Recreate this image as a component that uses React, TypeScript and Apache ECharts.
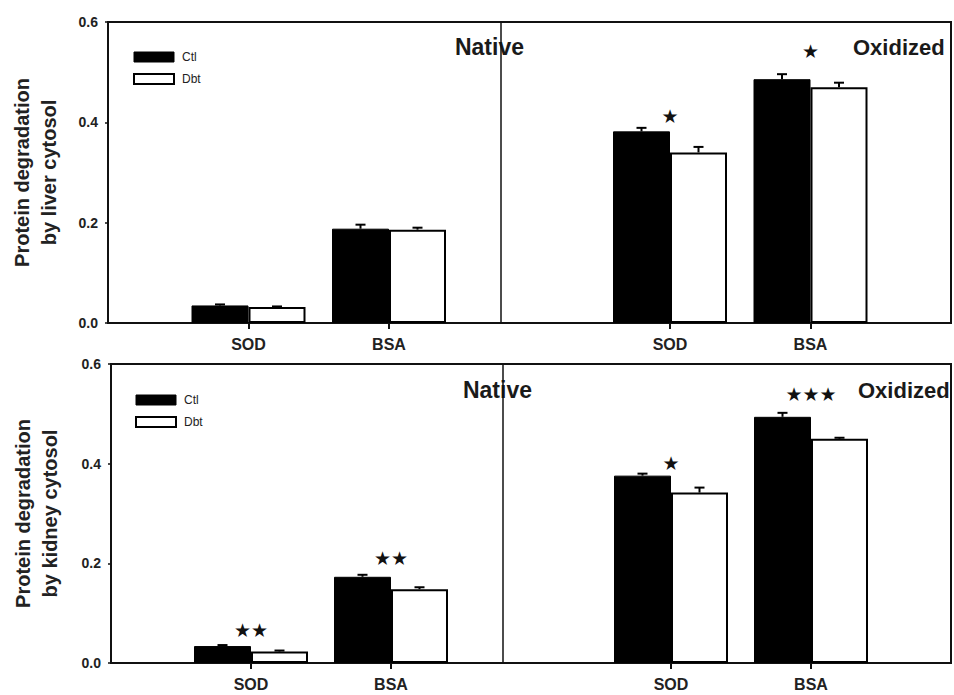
import { useEffect, useRef } from 'react';
import * as echarts from 'echarts';

const proteins = ['SOD', 'BSA'];
const conditions = ['Native', 'Oxidized'];
const groups = ['Ctl', 'Dbt'];
const yTitles = ['Protein degradation\nby liver cytosol', 'Protein degradation\nby kidney cytosol'];
const yTickLabels = ['0.0', '0.2', '0.4', '0.6'];

// order of values: Native SOD, Native BSA, Oxidized SOD, Oxidized BSA
const liverCtl = [0.035, 0.188, 0.382, 0.486];
const liverCtlErr = [0.002, 0.008, 0.007, 0.01];
const liverDbt = [0.032, 0.186, 0.34, 0.47];
const liverDbtErr = [0.001, 0.004, 0.011, 0.009];
const liverSig = ['', '', '*', '*'];
const liverSigY = [0, 0, 0.412, 0.542];

const kidneyCtl = [0.034, 0.173, 0.376, 0.494];
const kidneyCtlErr = [0.002, 0.004, 0.004, 0.008];
const kidneyDbt = [0.023, 0.148, 0.342, 0.45];
const kidneyDbtErr = [0.002, 0.004, 0.01, 0.002];
const kidneySig = ['**', '**', '*', '***'];
const kidneySigY = [0.066, 0.21, 0.402, 0.54];

const FONT = "'Liberation Sans', Arial, sans-serif";
const BAR_W = 57;

const categories = ['', ...proteins, '', ...proteins, ''];
const dividerSlot = proteins.length + 1;
const slots = conditions.flatMap((_, ci) => proteins.map((__, pi) => 1 + ci * (proteins.length + 1) + pi));

const panels = [
  { ctl: liverCtl, ctlErr: liverCtlErr, dbt: liverDbt, dbtErr: liverDbtErr, sig: liverSig, sigY: liverSigY },
  { ctl: kidneyCtl, ctlErr: kidneyCtlErr, dbt: kidneyDbt, dbtErr: kidneyDbtErr, sig: kidneySig, sigY: kidneySigY },
];

const gridLayout = [
  { left: 107, top: 22, width: 852, height: 301 },
  { left: 111, top: 364, width: 852, height: 299 },
];

function toSlots(values: number[]) {
  const arr: (number | string)[] = categories.map(() => '-');
  slots.forEach((s, i) => (arr[s] = values[i]));
  return arr;
}

function errorSeries(p: number, values: number[], errs: number[], offset: number) {
  return {
    type: 'custom',
    xAxisIndex: p,
    yAxisIndex: p,
    silent: true,
    z: 5,
    data: slots.map((s, i) => [s, values[i], errs[i]]),
    encode: { x: 0, y: 1 },
    renderItem: (params: any, api: any) => {
      const x = api.value(0);
      const y = api.value(1);
      const e = api.value(2);
      const p0 = api.coord([x, y]);
      const p1 = api.coord([x, y + e]);
      const cx = p0[0] + offset;
      const style = { stroke: '#000', lineWidth: 2 };
      return {
        type: 'group',
        children: [
          { type: 'line', shape: { x1: cx, y1: p0[1], x2: cx, y2: p1[1] }, style },
          { type: 'line', shape: { x1: cx - 5, y1: p1[1], x2: cx + 5, y2: p1[1] }, style },
        ],
      };
    },
  };
}

function buildOption() {
  const series: any[] = [];
  panels.forEach((pd, p) => {
    series.push({
      type: 'bar',
      name: groups[0],
      xAxisIndex: p,
      yAxisIndex: p,
      data: toSlots(pd.ctl),
      barWidth: BAR_W,
      barGap: '0%',
      itemStyle: { color: '#000', borderColor: '#000', borderWidth: 1 },
      markLine: {
        silent: true,
        symbol: 'none',
        label: { show: false },
        lineStyle: { color: '#111', width: 1.5, type: 'solid' },
        data: [{ xAxis: dividerSlot }],
      },
    });
    series.push({
      type: 'bar',
      name: groups[1],
      xAxisIndex: p,
      yAxisIndex: p,
      data: toSlots(pd.dbt),
      barWidth: BAR_W,
      barGap: '0%',
      itemStyle: { color: '#fff', borderColor: '#000', borderWidth: 2 },
    });
    series.push(errorSeries(p, pd.ctl, pd.ctlErr, -BAR_W / 2));
    series.push(errorSeries(p, pd.dbt, pd.dbtErr, BAR_W / 2));
    const sigIdx = pd.sig.map((s, i) => (s ? i : -1)).filter((i) => i >= 0);
    series.push({
      type: 'custom',
      xAxisIndex: p,
      yAxisIndex: p,
      silent: true,
      z: 6,
      data: sigIdx.map((i) => [slots[i], pd.sigY[i]]),
      encode: { x: 0, y: 1 },
      renderItem: (params: any, api: any) => {
        const pt = api.coord([api.value(0), api.value(1)]);
        const txt = pd.sig[sigIdx[params.dataIndex]].replace(/\*/g, '\u2605');
        return {
          type: 'text',
          x: pt[0],
          y: pt[1],
          style: {
            text: txt,
            fontSize: 19,
            fontFamily: "'DejaVu Sans', sans-serif",
            fill: '#111',
            align: 'center',
            verticalAlign: 'middle',
          },
        };
      },
    });
  });

  const legendData = [
    { name: groups[0], itemStyle: { color: '#000', borderColor: '#000', borderWidth: 1 } },
    { name: groups[1], itemStyle: { color: '#fff', borderColor: '#000', borderWidth: 2 } },
  ];
  const legendPos = [
    { left: 128, top: 46 },
    { left: 130, top: 389 },
  ];

  const titlePos = [
    { nativeRight: 524, y: 47, oxLeft: 853 },
    { nativeRight: 532, y: 390, oxLeft: 858 },
  ];

  return {
    animation: false,
    backgroundColor: '#fff',
    grid: gridLayout.map((g) => ({ ...g, show: true, borderColor: '#111', borderWidth: 2 })),
    xAxis: gridLayout.map((_, p) => ({
      type: 'category',
      gridIndex: p,
      data: categories,
      boundaryGap: false,
      axisLine: { lineStyle: { color: '#111', width: 2 } },
      axisTick: {
        show: true,
        length: 6,
        interval: (_i: number, v: string) => v !== '',
        lineStyle: { color: '#111', width: 2 },
      },
      axisLabel: {
        interval: 0,
        margin: 13,
        fontSize: 16,
        fontWeight: 'bold',
        fontFamily: FONT,
        color: '#222',
      },
      splitLine: { show: false },
    })),
    yAxis: gridLayout.map((_, p) => ({
      type: 'value',
      gridIndex: p,
      min: 0,
      max: 0.6,
      interval: 0.2,
      name: yTitles[p],
      nameLocation: 'middle',
      nameRotate: 90,
      nameGap: p === 0 ? 46 : 48,
      nameTextStyle: { fontSize: 20, fontWeight: 'bold', fontFamily: FONT, color: '#222', lineHeight: 27 },
      axisLine: { show: true, lineStyle: { color: '#111', width: 2 } },
      axisTick: { show: true, length: 3, lineStyle: { color: '#111', width: 1.5 } },
      axisLabel: {
        margin: 10,
        fontSize: 14,
        fontWeight: 'bold',
        fontFamily: FONT,
        color: '#222',
        formatter: (v: number) => yTickLabels[Math.round(v / 0.2)] ?? String(v),
      },
      splitLine: { show: false },
    })),
    legend: legendPos.map((lp) => ({
      ...lp,
      orient: 'vertical',
      icon: 'rect',
      itemWidth: 40,
      itemHeight: 10,
      itemGap: 10,
      selectedMode: false,
      data: legendData,
      textStyle: { fontSize: 12, color: '#222', fontFamily: FONT, padding: [0, 0, 0, 3] },
    })),
    graphic: titlePos.flatMap((tp) => [
      {
        type: 'text',
        x: tp.nativeRight,
        y: tp.y,
        style: {
          text: conditions[0],
          fontSize: 23,
          fontWeight: 'bold',
          fontFamily: FONT,
          fill: '#1a1a1a',
          align: 'right',
          verticalAlign: 'middle',
        },
      },
      {
        type: 'text',
        x: tp.oxLeft,
        y: tp.y,
        style: {
          text: conditions[1],
          fontSize: 22,
          fontWeight: 'bold',
          fontFamily: FONT,
          fill: '#1a1a1a',
          align: 'left',
          verticalAlign: 'middle',
        },
      },
    ]),
    series,
  };
}

export default function App() {
  const ref = useRef<HTMLDivElement>(null);
  useEffect(() => {
    if (!ref.current) return;
    const chart = echarts.init(ref.current, null, { renderer: 'svg', width: 954, height: 695 });
    chart.setOption(buildOption() as any);
    return () => chart.dispose();
  }, []);
  return (
    <div
      ref={ref}
      style={{ position: 'absolute', left: 0, top: 0, width: 954, height: 695, background: '#fff' }}
    />
  );
}
